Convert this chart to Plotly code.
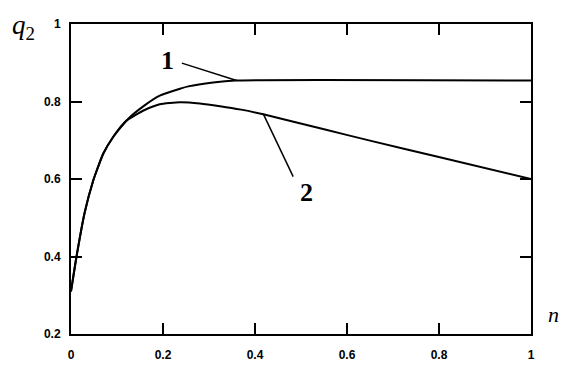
import plotly.graph_objects as go

# Curve 1 (rises, then plateau)
n1 = [0, 0.012, 0.03, 0.048, 0.056, 0.07, 0.092, 0.124, 0.16, 0.193, 0.237, 0.255, 0.309, 0.357, 1.0]
q1 = [0.31, 0.40, 0.515, 0.595, 0.622, 0.665, 0.709, 0.755, 0.79, 0.815, 0.833, 0.839, 0.849, 0.854, 0.854]

# Curve 2 (rises, peaks, then declines)
n2 = [0, 0.012, 0.03, 0.048, 0.056, 0.07, 0.092, 0.12, 0.16, 0.193, 0.237, 0.28, 0.324, 0.37, 0.418, 0.548, 0.65, 0.795, 1.0]
q2 = [0.31, 0.40, 0.515, 0.595, 0.622, 0.665, 0.709, 0.75, 0.778, 0.793, 0.798, 0.795, 0.788, 0.779, 0.767, 0.729, 0.699, 0.658, 0.60]

x_ticks = [0, 0.2, 0.4, 0.6, 0.8, 1]
x_tick_labels = ["0", "0.2", "0.4", "0.6", "0.8", "1"]
y_ticks = [0.2, 0.4, 0.6, 0.8, 1]
y_tick_labels = ["0.2", "0.4", "0.6", "0.8", "1"]

fig = go.Figure()
fig.add_trace(go.Scatter(x=n1, y=q1, mode="lines",
                         line=dict(color="black", width=2, shape="spline", smoothing=0.5),
                         showlegend=False, hoverinfo="skip"))
fig.add_trace(go.Scatter(x=n2, y=q2, mode="lines",
                         line=dict(color="black", width=2, shape="spline", smoothing=0.5),
                         showlegend=False, hoverinfo="skip"))

tickfont = dict(family="Liberation Sans", size=12, color="black", weight="bold")
axis_common = dict(showline=True, linecolor="black", linewidth=2, mirror="ticks",
                   ticks="inside", ticklen=11, tickwidth=2, tickcolor="black",
                   showgrid=False, zeroline=False, tickfont=tickfont, automargin=False)

fig.update_xaxes(range=[0, 1], tickvals=x_ticks, ticktext=x_tick_labels,
                 ticklabelstandoff=9, **axis_common)
fig.update_yaxes(range=[0.2, 1], tickvals=y_ticks, ticktext=y_tick_labels,
                 ticklabelstandoff=6, **axis_common)

# Leader lines
fig.add_shape(type="line", xref="x", yref="y", x0=0.241, y0=0.899, x1=0.36, y1=0.854,
              line=dict(color="black", width=1.5))
fig.add_shape(type="line", xref="x", yref="y", x0=0.483, y0=0.606, x1=0.418, y1=0.768,
              line=dict(color="black", width=1.5))

labfont = dict(family="Liberation Serif", size=26, color="black", weight="bold")
fig.add_annotation(x=0.209, y=0.905, xref="x", yref="y", text="1", showarrow=False, font=labfont)
fig.add_annotation(x=0.511, y=0.564, xref="x", yref="y", text="2", showarrow=False, font=labfont)

# Axis titles (paper coords relative to plot area: 71..531 x, 24..334 y)
fig.add_annotation(x=(23 - 71) / 460, y=(334 - 27) / 310, xref="paper", yref="paper",
                   text="<i>q</i><sub>2</sub>", showarrow=False, xanchor="center", yanchor="middle",
                   font=dict(family="Liberation Serif", size=27, color="black"))
fig.add_annotation(x=(553 - 71) / 460, y=(334 - 314) / 310, xref="paper", yref="paper",
                   text="<i>n</i>", showarrow=False, xanchor="center", yanchor="middle",
                   font=dict(family="Liberation Serif", size=22, color="black"))

fig.update_layout(width=570, height=375, margin=dict(l=71, r=39, t=24, b=41),
                  paper_bgcolor="white", plot_bgcolor="white")

fig.write_html("out.html", config={"displayModeBar": False},
               post_script="document.body.style.margin='0';document.body.style.overflow='hidden';")
